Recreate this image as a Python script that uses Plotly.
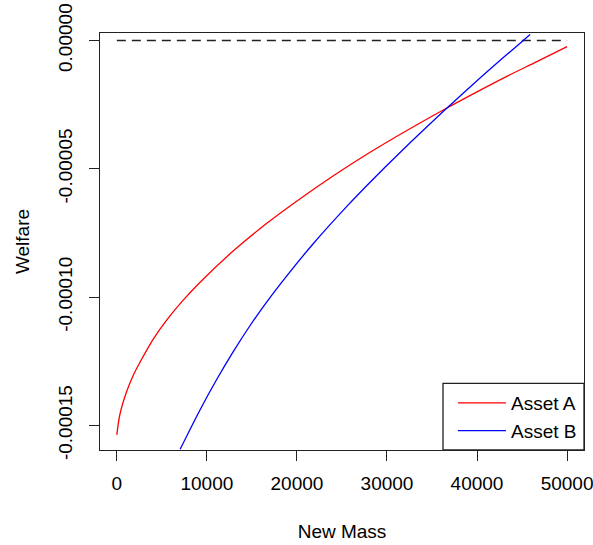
import plotly.graph_objects as go

# ---- data ----
new_mass_a = [0, 350, 1110, 1843, 2587, 4064, 5552, 7395, 9250, 12947,
              16656, 20354, 24052, 28126, 31824, 36455, 39786, 43306, 46637, 50000]
welfare_a = [-1.537e-4, -1.4555e-4, -1.366e-4, -1.3035e-4, -1.253e-4, -1.163e-4,
             -1.089e-4, -1.011e-4, -9.419e-5, -8.195e-5, -7.124e-5, -6.165e-5,
             -5.27e-5, -4.357e-5, -3.585e-5, -2.669e-5, -2.042e-5, -1.399e-5,
             -8.22e-6, -2.4e-6]

new_mass_b = [7029, 9250, 11104, 12947, 14802, 16656, 18877, 21831, 25540,
              28126, 31824, 35533, 36455, 39597, 43306, 45038, 45893]
welfare_b = [-1.5931e-4, -1.4388e-4, -1.3203e-4, -1.2116e-4, -1.1106e-4,
             -1.0183e-4, -9.170e-5, -7.911e-5, -6.465e-5, -5.522e-5, -4.236e-5,
             -3.001e-5, -2.701e-5, -1.695e-5, -5.49e-6, -2.7e-7, 2.30e-6]

zero_x = [0, 50000]
zero_y = [0, 0]

x_ticks = [0, 10000, 20000, 30000, 40000, 50000]
x_tick_labels = ["0", "10000", "20000", "30000", "40000", "50000"]
y_ticks = [0, -0.00005, -0.00010, -0.00015]
y_tick_labels = ["0.00000", "-0.00005", "-0.00010", "-0.00015"]

series_names = ["Asset A", "Asset B"]

FONT = "Arial, Liberation Sans, sans-serif"

fig = go.Figure()
fig.add_trace(go.Scatter(x=zero_x, y=zero_y, mode="lines", showlegend=False,
                         line=dict(color="#222222", width=1.4, dash="9px,6px")))
fig.add_trace(go.Scatter(x=new_mass_a, y=welfare_a, mode="lines", name=series_names[0],
                         line=dict(color="#FF0000", width=1.3, shape="spline", smoothing=1.0)))
fig.add_trace(go.Scatter(x=new_mass_b, y=welfare_b, mode="lines", name=series_names[1],
                         line=dict(color="#0000FF", width=1.3, shape="spline", smoothing=1.0)))

axis_common = dict(showgrid=False, zeroline=False, showline=True, mirror=True,
                   linecolor="#222222", linewidth=1.3, ticks="outside", ticklen=10,
                   tickwidth=1.3, tickcolor="#222222", automargin=False,
                   ticklabeloverflow="allow",
                   tickfont=dict(family=FONT, size=19, color="#000000"))

fig.update_layout(
    width=593, height=545,
    margin=dict(l=100, r=9, t=33, b=95),
    paper_bgcolor="white", plot_bgcolor="white",
    font=dict(family=FONT, size=19, color="#000000"),
    xaxis=dict(range=[-1870, 51880], tickvals=x_ticks, ticktext=x_tick_labels,
               ticklabelstandoff=6,
               title=dict(text="New Mass", standoff=31,
                          font=dict(family=FONT, size=19, color="#000000")),
               **axis_common),
    yaxis=dict(range=[-1.5958e-4, 2.92e-6], tickvals=y_ticks, ticktext=y_tick_labels,
               tickangle=-90, ticklabelstandoff=9,
               title=dict(text="Welfare", standoff=20,
                          font=dict(family=FONT, size=19, color="#000000")),
               **axis_common),
    legend=dict(x=0.7293, xanchor="left", y=0.158, yanchor="top",
                bgcolor="rgba(0,0,0,0)", borderwidth=0, itemwidth=48,
                font=dict(family=FONT, size=19, color="#000000")),
    shapes=[dict(type="rect", xref="paper", yref="paper",
                 x0=0.7087, x1=1.0, y0=0.0, y1=0.16,
                 line=dict(color="#222222", width=1.3), fillcolor="white",
                 layer="above")],
)

fig.write_html("out.html")
